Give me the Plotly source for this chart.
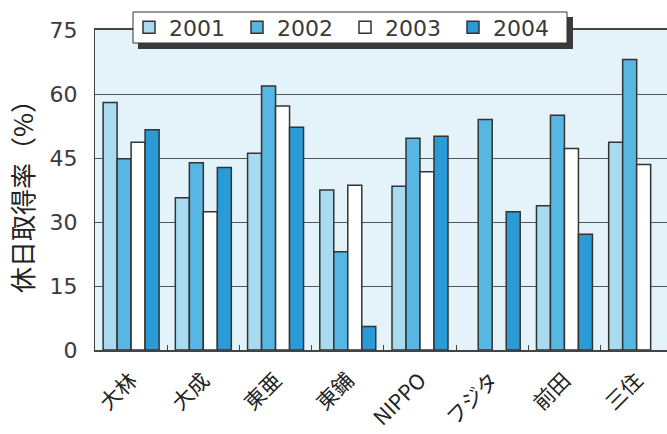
import plotly.graph_objects as go

categories = ["大林", "大成", "東亜", "東鋪", "NIPPO", "フジタ", "前田", "三住"]
years = ["2001", "2002", "2003", "2004"]
v2001 = [58.0, 35.7, 46.1, 37.5, 38.4, None, 33.8, 48.7]
v2002 = [44.8, 43.9, 61.9, 23.0, 49.6, 54.0, 55.0, 68.1]
v2003 = [48.7, 32.4, 57.2, 38.6, 41.8, None, 47.2, 43.5]
v2004 = [51.6, 42.8, 52.2, 5.5, 50.1, 32.4, 27.1, None]
series = [v2001, v2002, v2003, v2004]
colors = ["#a8daf0", "#58b6e2", "#ffffff", "#2a9bd6"]
y_ticks = [0, 15, 30, 45, 60, 75]

fig = go.Figure()
for name, vals, col in zip(years, series, colors):
    fig.add_trace(go.Bar(
        x=categories, y=vals, name=name,
        marker=dict(color=col, line=dict(color="#333333", width=1.5)),
    ))

W, X0, Y0, H = 572, 95, 350, 320
def px(x):
    return (x - X0) / W
def py(y):
    return (Y0 - y) / H

# legend shadow and box
fig.add_shape(type="rect", xref="paper", yref="paper",
              x0=px(138), x1=px(573), y0=py(49), y1=py(17),
              fillcolor="#3a3a3a", line=dict(width=0), layer="above")
fig.add_shape(type="rect", xref="paper", yref="paper",
              x0=px(133), x1=px(567), y0=py(43), y1=py(12),
              fillcolor="white", line=dict(color="#333333", width=1), layer="above")

fig.update_layout(
    width=667, height=434,
    margin=dict(l=95, r=0, t=30, b=84),
    paper_bgcolor="white",
    plot_bgcolor="#e4f3fa",
    barmode="group", bargap=0.225, bargroupgap=0,
    font=dict(family="DejaVu Sans", color="#3a3a3a"),
    legend=dict(
        orientation="h", x=px(129), xanchor="left",
        y=py(27.5), yanchor="middle",
        bgcolor="rgba(0,0,0,0)", borderwidth=0,
        font=dict(size=22, family="DejaVu Sans", color="#3a3a3a"),
        entrywidth=63, entrywidthmode="pixels",
        itemwidth=30,
    ),
    xaxis=dict(
        range=[-0.5, 7.42],
        showline=True, linecolor="#444444", linewidth=1.5, mirror=True,
        ticks="inside", ticklen=5, tickcolor="#444444", tickson="boundaries",
        tickangle=-45, ticklabelstandoff=8,
        tickfont=dict(size=21, family="Noto Sans CJK JP", color="#222222"),
        showgrid=False,
    ),
    yaxis=dict(
        range=[0, 75], tickvals=y_ticks,
        showline=True, linecolor="#444444", linewidth=1,
        showgrid=True, gridcolor="#555555", gridwidth=1,
        ticks="outside", ticklen=12, tickcolor="rgba(0,0,0,0)",
        tickfont=dict(size=22, family="DejaVu Sans", color="#3a3a3a"),
        title=dict(text="休日取得率（%）", standoff=8,
                   font=dict(size=26, family="Noto Sans CJK JP", color="#222222")),
        zeroline=False,
    ),
)

fig.write_html("out.html")
